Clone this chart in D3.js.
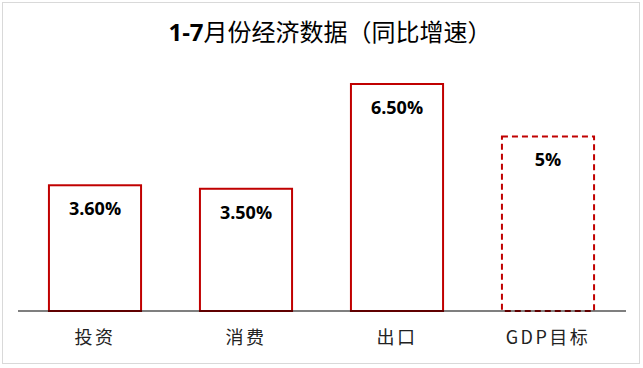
<!DOCTYPE html>
<html><head><meta charset="utf-8">
<script src="https://cdn.jsdelivr.net/npm/d3@7"></script>
<style>body{margin:0;background:#fff}svg{display:block}</style>
</head><body>
<svg id="c" width="643" height="368"></svg>
<script>
const categories = ["投资", "消费", "出口", "GDP目标"];
const values = [3.6, 3.5, 6.5, 5];
const labels = ["3.60%", "3.50%", "6.50%", "5%"];
const dashed = [false, false, false, true];
const title = "1-7月份经济数据（同比增速）";

const svg = d3.select("#c");
svg.append("rect").attr("x", 2.5).attr("y", 2.5).attr("width", 637).attr("height", 361)
  .attr("fill", "#fff").attr("stroke", "#d9d9d9").attr("stroke-width", 1);

const x = d3.scaleBand().domain(categories).range([19.5, 623.5]).paddingInner(0.39).paddingOuter(0.195);
const y = d3.scaleLinear().domain([0, 6.5]).range([311, 84]);

const g = svg.append("g");
g.selectAll("rect.bar").data(categories).join("rect").attr("class", "bar")
  .attr("x", d => x(d)).attr("width", x.bandwidth())
  .attr("y", (d, i) => y(values[i])).attr("height", (d, i) => y(0) - y(values[i]))
  .attr("fill", "#fff").attr("stroke", "#c00000").attr("stroke-width", 2)
  .attr("stroke-dasharray", (d, i) => dashed[i] ? "6,4" : null);

g.selectAll("text.val").data(categories).join("text").attr("class", "val")
  .attr("x", d => x(d) + x.bandwidth() / 2).attr("y", (d, i) => y(values[i]) + 30)
  .attr("text-anchor", "middle").attr("font-family", "'Open Sans','Noto Sans',sans-serif")
  .attr("font-weight", "bold").attr("font-size", 18).attr("fill", "#000")
  .text((d, i) => labels[i]);

const axis = d3.axisBottom(x).tickSize(0).tickPadding(20);
const ax = svg.append("g").attr("transform", "translate(0,311)").call(axis);
ax.select(".domain").attr("stroke", "#000").attr("stroke-width", 1.2).attr("d", "M18,0H626");
ax.selectAll("text").attr("font-family", "'Noto Sans CJK SC','Noto Sans',sans-serif")
  .attr("font-size", 18).attr("fill", "#222").attr("letter-spacing", 2.5);

const t = svg.append("text").attr("x", 330).attr("y", 41).attr("text-anchor", "middle")
  .attr("font-family", "'Noto Sans CJK SC',sans-serif").attr("font-size", 24).attr("fill", "#000");
t.append("tspan").attr("font-weight", "bold").attr("font-family", "'Open Sans',sans-serif").text(title.slice(0, 3));
t.append("tspan").text(title.slice(3));
</script>
</body></html>
